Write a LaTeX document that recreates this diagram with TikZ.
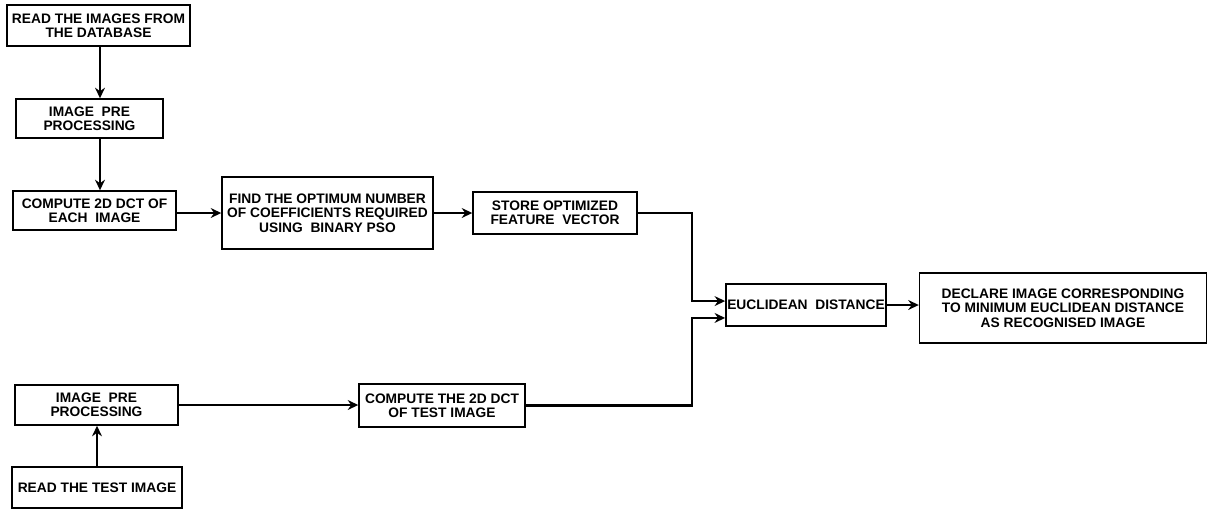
\documentclass[tikz,border=0pt]{standalone}
\usepackage{fontspec}
\setmainfont{Liberation Sans}
\usepackage{tikz}
\usetikzlibrary{arrows.meta}

\begin{document}
\begin{tikzpicture}[x=0.025cm,y=-0.025cm,
    blk/.style={draw,line width=1pt,align=center,inner sep=1pt,
      font=\fontsize{9.8}{10.2}\selectfont\bfseries},
    arr/.style={line width=1.5pt,-{Stealth[length=7.5pt,width=7pt]}}]
  \useasboundingbox (0,0) rectangle (1209,509);
  \node[blk,minimum width=183*0.025cm,minimum height=41*0.025cm] (rdb) at (98.5,25.5) {READ THE IMAGES FROM\\THE DATABASE};
  \node[blk,minimum width=147*0.025cm,minimum height=39*0.025cm] (pre) at (89.5,118.5) {IMAGE\ \ PRE\\PROCESSING};
  \node[blk,minimum width=163*0.025cm,minimum height=39*0.025cm] (dct) at (94.5,210.5) {COMPUTE 2D DCT OF\\EACH\ \ IMAGE};
  \node[blk,minimum width=211*0.025cm,minimum height=72*0.025cm] (pso) at (327.5,213) {FIND THE OPTIMUM NUMBER\\OF COEFFICIENTS REQUIRED\\USING\ \ BINARY PSO};
  \node[blk,minimum width=164*0.025cm,minimum height=42*0.025cm] (sto) at (555,213) {STORE OPTIMIZED\\FEATURE\ \ VECTOR};
  \node[blk,minimum width=160*0.025cm,minimum height=42*0.025cm] (euc) at (806,305) {EUCLIDEAN\ \ DISTANCE};
  \node[blk,minimum width=287*0.025cm,minimum height=70*0.025cm] (dec) at (1063,308) {DECLARE IMAGE CORRESPONDING\\TO MINIMUM EUCLIDEAN DISTANCE\\AS RECOGNISED IMAGE};
  \node[blk,minimum width=163*0.025cm,minimum height=40*0.025cm] (tpre) at (96.5,405) {IMAGE\ \ PRE\\PROCESSING};
  \node[blk,minimum width=170*0.025cm,minimum height=41*0.025cm] (rtst) at (97,487.5) {READ THE TEST IMAGE};
  \node[blk,minimum width=166*0.025cm,minimum height=43*0.025cm] (tdct) at (442,405.5) {COMPUTE THE 2D DCT\\OF TEST IMAGE};
  \coordinate (mx) at (692,0);
  \draw[arr] (rdb.south -| 100,0) -- (pre.north -| 100,0);
  \draw[arr] (pre.south -| 100,0) -- (dct.north -| 100,0);
  \draw[arr] (dct.east |- pso.west) -- (pso.west);
  \draw[arr] (pso.east) -- (sto.west);
  \draw[arr] (sto.east) -- (sto.east -| mx) |- ([yshift=2.8pt]euc.west);
  \draw[arr] (tdct.east) -- (tdct.east -| mx) |- ([yshift=-9.2pt]euc.west);
  \draw[arr] (euc.east) -- (euc.east -| dec.west);
  \draw[arr] (rtst.north) -- (rtst.north |- tpre.south);
  \draw[arr] (tpre.east) -- (tpre.east -| tdct.west);
\end{tikzpicture}
\end{document}
